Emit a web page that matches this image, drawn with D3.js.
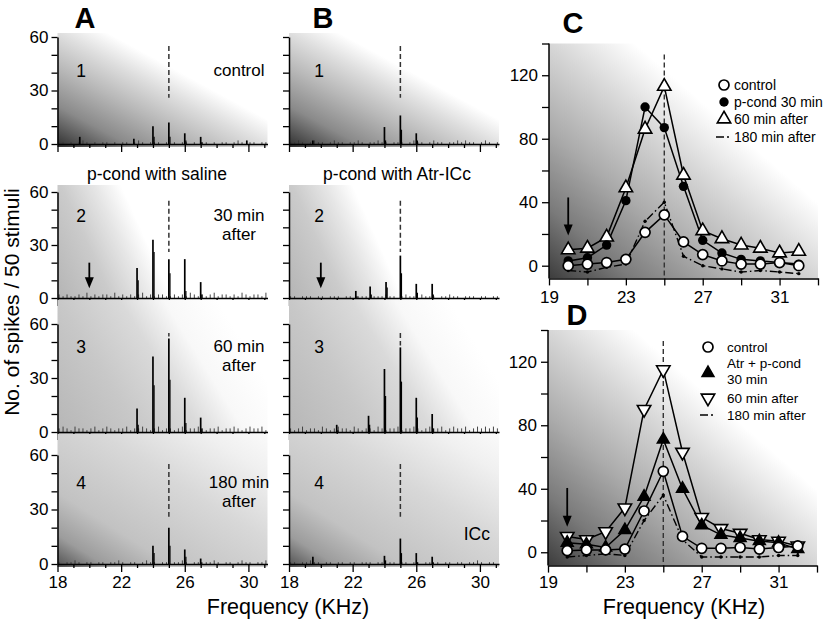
<!DOCTYPE html>
<html>
<head>
<meta charset='utf-8'>
<title>Frequency tuning after p-cond</title>
<script src='https://cdn.jsdelivr.net/npm/d3@7'></script>
<style>
body { margin: 0; background: #fff; }
svg { font-family: 'Liberation Sans', Arial, sans-serif; }
</style>
</head>
<body>
<svg width='825' height='621'></svg>
<script>
const svg = d3.select('svg')

// ---- histograms (A: saline, B: Atr-ICc), bins of 0.25 kHz from 18.1 kHz
const binStart = 18.1, binStep = 0.25
const noiseA1 = [1,1,0,1,0,1,2,1,0,1, 0,1,1,0,1,0,1,1,0,1, 2,1,0,1,1,1,0,1,0,1, 0,1,1,0,1,0,1,1,0,1, 0,1,1,0,1,2,1,0,1,1, 0,1,1]
const noiseA2 = [2,1,2,1,1,2,1,3,1,2, 1,2,2,1,3,1,2,1,2,1, 2,3,1,2,1,2,2,1,1,2, 1,2,1,3,2,1,2,1,2,3, 1,2,2,1,2,1,3,2,1,2, 2,1,3]
const noiseA3 = [2,3,2,1,3,2,2,1,2,3, 1,2,3,2,1,2,2,3,1,2, 2,3,2,1,2,3,1,2,2,1, 2,3,1,2,2,3,2,1,2,2, 3,1,2,2,3,2,1,2,3,2, 2,3,1]
const noiseA4 = [1,0,1,1,2,1,0,1,1,0, 1,1,0,1,1,2,1,0,1,1, 0,1,2,1,1,0,1,1,0,1, 1,2,1,0,1,1,0,1,1,2, 1,0,1,1,0,1,2,1,1,0, 1,1,2]
const noiseB1 = [1,1,2,1,0,1,2,1,1,0, 1,2,1,1,0,1,1,2,1,0, 1,1,2,1,1,0,1,1,1,0, 1,2,1,1,0,1,2,1,1,0, 1,1,2,1,2,1,1,0,1,2, 1,0,1]
const noiseB2 = [1,1,0,1,1,1,0,1,1,0, 1,1,1,0,1,1,0,1,1,1, 0,1,1,1,2,1,1,0,1,2, 1,1,0,2,1,1,1,0,1,1, 2,1,1,0,1,1,1,0,1,1, 0,1,1]
const noiseB3 = [2,1,2,3,1,2,2,1,3,2, 1,2,3,2,2,1,3,2,1,2, 2,1,3,2,1,2,2,3,1,2, 2,3,2,1,2,3,2,2,3,1, 2,3,2,2,3,1,2,3,2,3, 2,3,2]
const noiseB4 = [1,1,0,1,1,2,1,1,0,1, 1,0,1,1,0,1,1,0,1,1, 1,0,1,1,0,1,1,0,1,1, 0,1,1,0,1,1,0,1,0,1, 1,0,1,1,0,1,1,2,1,0, 1,1,0]
// peaks: [frequency kHz, main count, neighbour count]
const peaksA1 = [[19.4,4,0],[22.8,3,0],[24,10,4],[25,12,4],[26,6,2],[27,4,1],[29.9,2,0]]
const peaksA2 = [[23,17,10],[24,33,26],[25,22,14],[26,22,4],[27,9,2]]
const peaksA3 = [[23,13,4],[24,42,26],[25,52,29],[26,19,5],[27,8,2]]
const peaksA4 = [[24,10,6],[25,20,10],[26,8,4],[27,3,1]]
const peaksB1 = [[19.5,2,0],[24,9.5,2],[25,16,8],[26,6,2]]
const peaksB2 = [[22.2,4,1],[23.1,6.5,2],[24.1,9,6],[25,24,14],[26,8,3],[27,8,2]]
const peaksB3 = [[21,4,1],[23,9,4],[24,35,20],[25,47,28],[26,19,8],[27,10,2]]
const peaksB4 = [[19.5,4,0],[24,4.5,2],[25,14,6],[26,6,1],[27,4,1]]

const histYTicks = [0,10,20,30,40,50,60]
const histYLabels = [0,30,60]
const histXTicks = [18,19,20,21,22,23,24,25,26,27,28,29,30,31]
const histXLabels = [18,22,26,30]
const rowNumbers = ['1','2','3','4']
const notesA = [['control'],['30 min','after'],['60 min','after'],['180 min','after']]
const colTitles = ['p-cond with saline','p-cond with Atr-ICc']

// ---- tuning curves (C, D)
const tuneFreq = [20,21,22,23,24,25,26,27,28,29,30,31,32]
const cControl = [0,1,2,4,21,32,15,7,3,1,1,2,0]
const cPcond30 = [3,5,13,41,100,87,50,16,8,4,3,2,1]
const cAfter60 = [10,11,18,49,86,113,57,22,17,13,11,8,9]
const cAfter180 = [-3,-4,-1,1,28,40,6,0,-2,-4,-3,-4,-5]
const dControl = [1,1.5,1.5,2,26,51,10,2.5,2.5,3,2,3,4]
const dAtrPcond = [6,5,3,14,35,71,40,17,11,9,7,6,2]
const dAfter60 = [10,8,13,28,90,115,63,22,15,12,8,7,4]
const dAfter180 = [-3,-2,-1,-2,20,36,8,-3,-3,-3,-3,-2,-2]
const tuneYTicks = [0,20,40,60,80,100,120,140]
const tuneYLabels = [0,40,80,120]
const tuneXTicks = [19,21,23,25,27,29,31,33]
const tuneXLabels = [19,23,27,31]

// ---- gradients
const defs = svg.append('defs')
function grad(id, dir, stops) {
    const g = defs.append('linearGradient').attr('id', id)
        .attr('x1', dir[0]).attr('y1', dir[1]).attr('x2', dir[2]).attr('y2', dir[3])
    stops.forEach(s => g.append('stop').attr('offset', s[0]).attr('stop-color', s[1]))
}
grad('bg0', [0,1,1,0], [[0,'#2f2f2f'],[0.18,'#8a8a8a'],[0.35,'#b8b8b8'],[0.5,'#dedede'],[0.62,'#ffffff'],[1,'#ffffff']])
grad('bg1', [0,1,1,0.75], [[0,'#b4b4b4'],[0.25,'#cbcbcb'],[0.4,'#e6e6e6'],[0.52,'#ffffff'],[1,'#ffffff']])
grad('bg2', [0,1,1,0.6], [[0,'#b6b6b6'],[0.35,'#c8c8c8'],[0.6,'#dadada'],[0.78,'#f8f8f8'],[1,'#ffffff']])
grad('bg3', [0,1,1,0], [[0,'#505050'],[0.12,'#9c9c9c'],[0.28,'#c2c2c2'],[0.6,'#d8d8d8'],[0.85,'#f0f0f0'],[1,'#fafafa']])
grad('bgT', [0,1,1,0], [[0,'#3c3c3c'],[0.15,'#7a7a7a'],[0.32,'#ababab'],[0.5,'#d6d6d6'],[0.66,'#ffffff'],[1,'#ffffff']])

function arrow(g, x, y1, y2) {
    g.append('line').attr('x1', x).attr('x2', x).attr('y1', y1).attr('y2', y2 - 8)
        .attr('stroke', '#000').attr('stroke-width', 1.8)
    g.append('path').attr('d', `M${x - 4.5},${y2 - 11}L${x + 4.5},${y2 - 11}L${x},${y2}Z`).attr('fill', '#000')
}

function styleAxis(ax, fs) {
    ax.attr('font-family', null).attr('font-size', fs)
    ax.select('.domain').attr('stroke-width', 1.5)
    ax.selectAll('.tick line').attr('stroke-width', 1.3)
    ax.selectAll('.tick text').attr('fill', '#000')
}

// ---- panels A and B
const colRange = [[57.5, 267.5], [289, 499]]
const rowY = [[144, 37], [298, 192], [432, 324], [564, 455]]
const bgTop = [33, 185, 300, 434]
const numBase = [77, 222, 353, 489]
const histPanels = [
    { col: 0, row: 0, noise: noiseA1, peaks: peaksA1 }, { col: 0, row: 1, noise: noiseA2, peaks: peaksA2 },
    { col: 0, row: 2, noise: noiseA3, peaks: peaksA3 }, { col: 0, row: 3, noise: noiseA4, peaks: peaksA4 },
    { col: 1, row: 0, noise: noiseB1, peaks: peaksB1 }, { col: 1, row: 1, noise: noiseB2, peaks: peaksB2 },
    { col: 1, row: 2, noise: noiseB3, peaks: peaksB3 }, { col: 1, row: 3, noise: noiseB4, peaks: peaksB4 }
]

histPanels.forEach(p => {
    const x = d3.scaleLinear().domain([18, 31.2]).range(colRange[p.col])
    const y = d3.scaleLinear().domain([0, 60]).range(rowY[p.row])
    const g = svg.append('g')

    g.append('rect').attr('x', x(18)).attr('y', bgTop[p.row])
        .attr('width', x(31.2) - x(18)).attr('height', y(0) + 3 - bgTop[p.row])
        .attr('fill', `url(#bg${p.row})`)

    // baseline activity
    g.selectAll('line.noise').data(p.noise).enter().append('line')
        .attr('class', 'noise')
        .attr('x1', (d, i) => x(binStart + i * binStep)).attr('x2', (d, i) => x(binStart + i * binStep))
        .attr('y1', y(0)).attr('y2', d => y(d))
        .attr('stroke', '#333').attr('stroke-width', 0.9)

    // stimulus peaks
    g.selectAll('line.sec').data(p.peaks).enter().append('line')
        .attr('class', 'sec')
        .attr('x1', d => x(d[0] + 0.07)).attr('x2', d => x(d[0] + 0.07))
        .attr('y1', y(0)).attr('y2', d => y(d[2]))
        .attr('stroke', '#000').attr('stroke-width', 1.2)
    g.selectAll('line.peak').data(p.peaks).enter().append('line')
        .attr('class', 'peak')
        .attr('x1', d => x(d[0])).attr('x2', d => x(d[0]))
        .attr('y1', y(0)).attr('y2', d => y(d[1]))
        .attr('stroke', '#000').attr('stroke-width', 1.7)

    // best frequency marker
    const pk25 = p.peaks.find(d => d[0] === 25)
    g.append('line').attr('x1', x(25)).attr('x2', x(25))
        .attr('y1', y(55)).attr('y2', y(Math.max(pk25 ? pk25[1] + 1 : 0, 26)))
        .attr('stroke', '#333').attr('stroke-width', 1.5).attr('stroke-dasharray', '5,3')

    // axes
    const yAx = g.append('g').attr('transform', `translate(${x(18)},0)`)
        .call(d3.axisLeft(y).tickValues(histYTicks).tickSize(6).tickSizeOuter(0).tickPadding(3)
            .tickFormat(d => p.col === 0 && histYLabels.includes(d) ? d : ''))
    styleAxis(yAx, 17)
    const xAx = g.append('g').attr('transform', `translate(0,${y(0)})`)
        .call(d3.axisBottom(x).tickValues(histXTicks).tickSize(4).tickSizeOuter(0).tickPadding(8)
            .tickFormat(d => p.row === 3 && histXLabels.includes(d) ? d : ''))
    styleAxis(xAx, 17)
    xAx.selectAll('.tick').filter(d => histXLabels.includes(d)).select('line').attr('y2', 8)

    // labels
    g.append('text').attr('x', p.col === 0 ? 81 : 319).attr('y', numBase[p.row])
        .attr('text-anchor', 'middle').attr('font-size', 17.5).text(rowNumbers[p.row])
    if (p.col === 0) {
        notesA[p.row].forEach((t, i) => {
            g.append('text').attr('x', 239).attr('y', numBase[p.row] - 1 + i * 18.5)
                .attr('text-anchor', 'middle').attr('font-size', 17).text(t)
        })
    }
    if (p.row === 1) arrow(g, x(20), y(20), y(5.5))
})

svg.append('text').attr('x', 490).attr('y', 540).attr('text-anchor', 'end').attr('font-size', 17.5).text('ICc')
svg.append('text').attr('x', 157).attr('y', 180).attr('text-anchor', 'middle').attr('font-size', 17.5).text(colTitles[0])
svg.append('text').attr('x', 397).attr('y', 180).attr('text-anchor', 'middle').attr('font-size', 17.5).text(colTitles[1])

// ---- panels C and D
function tuning(cfg) {
    const x = d3.scaleLinear().domain([19, 33]).range(cfg.xr)
    const y = d3.scaleLinear().domain(cfg.yd).range(cfg.yr)
    const g = svg.append('g')
    g.append('rect').attr('x', x(19)).attr('y', y(140)).attr('width', x(33) - x(19))
        .attr('height', y(cfg.yd[0]) - y(140)).attr('fill', 'url(#bgT)')

    g.append('line').attr('x1', x(25)).attr('x2', x(25)).attr('y1', y(133)).attr('y2', y(cfg.yd[0]))
        .attr('stroke', '#333').attr('stroke-width', 1.4).attr('stroke-dasharray', '5,3')

    const line = d3.line().x((d, i) => x(tuneFreq[i])).y(d => y(d))
    // 180 min
    g.append('path').attr('d', line(cfg.s180)).attr('fill', 'none').attr('stroke', '#000')
        .attr('stroke-width', 1.4).attr('stroke-dasharray', '8,3,1.5,3')
    g.selectAll('circle.s180').data(cfg.s180).enter().append('circle').attr('class', 's180')
        .attr('cx', (d, i) => x(tuneFreq[i])).attr('cy', d => y(d)).attr('r', 1.7).attr('fill', '#000')
    cfg.series.forEach(s => {
        g.append('path').attr('d', line(s.v)).attr('fill', 'none').attr('stroke', '#000').attr('stroke-width', 1.5)
    })
    cfg.series.forEach(s => {
        s.v.forEach((d, i) => drawMarker(g, s.m, x(tuneFreq[i]), y(d)))
    })

    const yAx = g.append('g').attr('transform', `translate(${x(19)},0)`)
        .call(d3.axisLeft(y).tickValues(tuneYTicks).tickSize(7).tickSizeOuter(0).tickPadding(4)
            .tickFormat(d => tuneYLabels.includes(d) ? d : ''))
    styleAxis(yAx, 17)
    yAx.select('.domain').attr('d', `M0,${y(cfg.yd[0])}V${y(140)}`)
    const xAx = g.append('g').attr('transform', `translate(0,${y(cfg.yd[0])})`)
        .call(d3.axisBottom(x).tickValues(tuneXTicks).tickSize(7).tickSizeOuter(0).tickPadding(cfg.pad)
            .tickFormat(d => tuneXLabels.includes(d) ? d : ''))
    styleAxis(xAx, 17)

    arrow(g, x(20), y(cfg.arrow[0]), y(cfg.arrow[1]))
    return g
}

function drawMarker(g, m, cx, cy) {
    if (m === 'oc') {
        g.append('circle').attr('cx', cx).attr('cy', cy).attr('r', 5).attr('fill', '#fff').attr('stroke', '#000').attr('stroke-width', 1.7)
    } else if (m === 'fc') {
        g.append('circle').attr('cx', cx).attr('cy', cy).attr('r', 4.7).attr('fill', '#000')
    } else {
        const filled = m === 'ft'
        const rot = m === 'dt' ? 180 : 0
        g.append('path').attr('d', d3.symbol(d3.symbolTriangle, filled ? 60 : 78)())
            .attr('transform', `translate(${cx},${cy}) rotate(${rot})`)
            .attr('fill', filled ? '#000' : '#fff').attr('stroke', '#000').attr('stroke-width', 1.6)
    }
}

const gC = tuning({
    xr: [549, 818], yd: [-8, 140], yr: [278.4, 43.5], arrow: [43, 19], pad: 6,
    s180: cAfter180,
    series: [{ v: cAfter60, m: 'ot' }, { v: cPcond30, m: 'fc' }, { v: cControl, m: 'oc' }]
})
const gD = tuning({
    xr: [548, 817], yd: [-8.4, 140], yr: [565.6, 330], arrow: [40.5, 16], pad: 3,
    s180: dAfter180,
    series: [{ v: dAfter60, m: 'dt' }, { v: dAtrPcond, m: 'ft' }, { v: dControl, m: 'oc' }]
})

// legends
function legend(items, mx, tx, fs) {
    items.forEach(it => {
        if (it.m === 'dd') {
            svg.append('line').attr('x1', mx - 8).attr('x2', mx + 8).attr('y1', it.y).attr('y2', it.y)
                .attr('stroke', '#000').attr('stroke-width', 1.6).attr('stroke-dasharray', '8,3,2,3')
        } else if (it.m) {
            drawMarker(svg, it.m, mx, it.y)
        }
        (it.t || []).forEach((t, i) => {
            svg.append('text').attr('x', tx).attr('y', it.b + i * 16).attr('font-size', fs).text(t)
        })
    })
}
legend([
    { m: 'oc', y: 85, b: 90, t: ['control'] },
    { m: 'fc', y: 102, b: 107, t: ['p-cond 30 min'] },
    { m: 'ot', y: 119, b: 124, t: ['60 min after'] },
    { m: 'dd', y: 137, b: 142, t: ['180 min after'] }
], 724, 734, 14)
legend([
    { m: 'oc', y: 347, b: 352, t: ['control'] },
    { m: 'ft', y: 373, b: 368, t: ['Atr + p-cond', '30 min'] },
    { m: 'dt', y: 398, b: 403, t: ['60 min after'] },
    { m: 'dd', y: 415, b: 420, t: ['180 min after'] }
], 708, 727, 13.5)

// panel letters and axis titles
const letters = [['A', 85, 28], ['B', 323, 28], ['C', 573, 33], ['D', 577, 325]]
letters.forEach(l => svg.append('text').attr('x', l[1]).attr('y', l[2]).attr('text-anchor', 'middle')
    .attr('font-size', 29).attr('font-weight', 'bold').text(l[0]))

svg.append('text').attr('transform', 'translate(18.5,302) rotate(-90)').attr('text-anchor', 'middle')
    .attr('font-size', 21).text('No. of spikes / 50 stimuli')
svg.append('text').attr('x', 288).attr('y', 614).attr('text-anchor', 'middle').attr('font-size', 21.5).text('Frequency (KHz)')
svg.append('text').attr('x', 684).attr('y', 614).attr('text-anchor', 'middle').attr('font-size', 21.5).text('Frequency (KHz)')
</script>
</body>
</html>
